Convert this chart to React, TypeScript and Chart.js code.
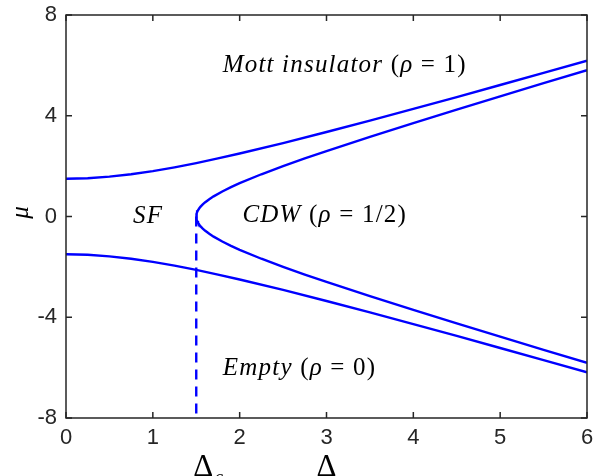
import React, { useEffect, useRef } from 'react';
import { Chart, registerables } from 'chart.js';

Chart.register(...registerables);

// Outer (Mott / Empty) boundaries
const deltaOuter = [0, 0.25, 0.5, 0.75, 1, 1.25, 1.5, 1.75, 2, 2.5, 3, 3.5, 4, 4.5, 5, 5.5, 6];
const muOuterUpper = [1.5, 1.521, 1.581, 1.677, 1.803, 1.953, 2.121, 2.305, 2.5, 2.915, 3.354, 3.808, 4.272, 4.743, 5.22, 5.701, 6.185];
const muOuterLower = [-1.5, -1.521, -1.581, -1.677, -1.803, -1.953, -2.121, -2.305, -2.5, -2.915, -3.354, -3.808, -4.272, -4.743, -5.22, -5.701, -6.185];

// CDW lobe boundaries
const deltaCdw = [1.5, 1.505, 1.51, 1.52, 1.535, 1.55, 1.575, 1.6, 1.65, 1.7, 1.8, 1.9, 2, 2.25, 2.5, 2.75, 3, 3.5, 4, 4.5, 5, 5.5, 6];
const muCdwUpper = [0, 0.123, 0.174, 0.246, 0.326, 0.391, 0.48, 0.557, 0.687, 0.8, 0.995, 1.166, 1.323, 1.677, 2, 2.305, 2.598, 3.162, 3.708, 4.243, 4.77, 5.292, 5.809];
const muCdwLower = [0, -0.123, -0.174, -0.246, -0.326, -0.391, -0.48, -0.557, -0.687, -0.8, -0.995, -1.166, -1.323, -1.677, -2, -2.305, -2.598, -3.162, -3.708, -4.243, -4.77, -5.292, -5.809];

// Critical Delta (dashed line)
const deltaC = [1.5, 1.5];
const muDashed = [0, -8];

const xRange = [0, 6];
const yRange = [-8, 8];
const xStep = 1;
const yStep = 4;

// Region labels
const regionTexts = ['Mott insulator', 'SF', 'CDW', 'Empty'];
const regionRho = ['1', '', '1/2', '0'];
const regionDelta = [3.21, 0.945, 2.98, 2.69];
const regionMu = [6.0, 0.0, 0.03, -6.03];

const BLUE = '#0000ff';
const AXIS = '#262626';

function drawSegments(ctx: any, segs: { t: string; it: boolean }[], cx: number, cy: number, size: number, spacing: number) {
  const fontFor = (it: boolean) => `${it ? 'italic ' : ''}${size}px "Liberation Serif"`;
  ctx.letterSpacing = `${spacing}px`;
  let total = 0;
  const widths = segs.map((s) => {
    ctx.font = fontFor(s.it);
    const w = ctx.measureText(s.t).width;
    total += w;
    return w;
  });
  let x = cx - total / 2;
  ctx.textAlign = 'left';
  ctx.textBaseline = 'middle';
  segs.forEach((s, i) => {
    ctx.font = fontFor(s.it);
    ctx.fillText(s.t, x, cy);
    x += widths[i];
  });
  ctx.letterSpacing = '0px';
}

const framePlugin = {
  id: 'framePlugin',
  afterDatasetsDraw(chart: any) {
    const { ctx, chartArea, scales } = chart;
    const xs = scales.x;
    const ys = scales.y;
    const { left, right, top, bottom } = chartArea;
    ctx.save();
    ctx.strokeStyle = AXIS;
    ctx.lineWidth = 1.5;
    ctx.beginPath();
    ctx.rect(left, top, right - left, bottom - top);
    ctx.stroke();
    const tl = 6;
    ctx.beginPath();
    xs.ticks.forEach((t: any) => {
      const px = xs.getPixelForValue(t.value);
      ctx.moveTo(px, bottom);
      ctx.lineTo(px, bottom - tl);
      ctx.moveTo(px, top);
      ctx.lineTo(px, top + tl);
    });
    ys.ticks.forEach((t: any) => {
      const py = ys.getPixelForValue(t.value);
      ctx.moveTo(left, py);
      ctx.lineTo(left + tl, py);
      ctx.moveTo(right, py);
      ctx.lineTo(right - tl, py);
    });
    ctx.stroke();

    // Region labels
    ctx.fillStyle = '#000';
    regionTexts.forEach((txt, i) => {
      const cx = xs.getPixelForValue(regionDelta[i]);
      const cy = ys.getPixelForValue(regionMu[i]);
      const segs = regionRho[i]
        ? [
            { t: txt, it: true },
            { t: ' (', it: false },
            { t: 'ρ', it: true },
            { t: ' = ' + regionRho[i] + ')', it: false },
          ]
        : [{ t: txt, it: true }];
      drawSegments(ctx, segs, cx, cy, 25, 1.2);
    });

    // Axis labels
    ctx.fillStyle = '#000';
    ctx.textBaseline = 'alphabetic';
    ctx.textAlign = 'center';
    ctx.font = '31px "Liberation Serif"';
    const dX = xs.getPixelForValue((xRange[0] + xRange[1]) / 2);
    ctx.fillText('Δ', dX, 476);
    const dcX = xs.getPixelForValue(deltaC[0]) + 7;
    ctx.fillText('Δ', dcX, 476);
    ctx.font = 'italic 20px "Liberation Serif"';
    ctx.textAlign = 'left';
    ctx.fillText('c', dcX + 11, 484);

    ctx.save();
    ctx.translate(21, ys.getPixelForValue(0) - 4);
    ctx.rotate(-Math.PI / 2);
    ctx.textAlign = 'center';
    ctx.textBaseline = 'middle';
    ctx.font = 'italic 25px "Liberation Serif"';
    ctx.fillText('μ', 0, 0);
    ctx.restore();

    ctx.restore();
  },
};

const zeroPad = (s: any) => {
  s.paddingTop = 0;
  s.paddingBottom = 0;
  s.paddingLeft = 0;
  s.paddingRight = 0;
};

export default function App() {
  const ref = useRef<HTMLCanvasElement>(null);
  useEffect(() => {
    document.body.style.margin = '0';
    const canvas = ref.current!;
    const toPts = (xs: number[], ys: number[]) => xs.map((x, i) => ({ x, y: ys[i] }));
    const cdwPath = [
      ...toPts(deltaCdw, muCdwUpper).reverse(),
      ...toPts(deltaCdw, muCdwLower).slice(1),
    ];
    const common = {
      showLine: true,
      pointRadius: 0,
      borderColor: BLUE,
      backgroundColor: BLUE,
      borderWidth: 2.4,
      fill: false,
      tension: 0,
    };
    const chart = new Chart(canvas, {
      type: 'scatter',
      data: {
        datasets: [
          { ...common, data: toPts(deltaOuter, muOuterUpper) },
          { ...common, data: toPts(deltaOuter, muOuterLower) },
          { ...common, data: cdwPath },
          { ...common, data: toPts(deltaC, muDashed), borderDash: [10, 7] },
        ],
      },
      options: {
        animation: false,
        responsive: false,
        maintainAspectRatio: false,
        layout: { padding: { left: 0, right: 13, top: 15, bottom: 0 } },
        plugins: { legend: { display: false }, tooltip: { enabled: false } },
        scales: {
          x: {
            type: 'linear',
            min: xRange[0],
            max: xRange[1],
            grid: { display: false, drawTicks: false },
            border: { display: false },
            ticks: {
              stepSize: xStep,
              padding: 7,
              color: AXIS,
              font: { family: '"Liberation Sans"', size: 22 },
              callback: (v: any) => String(v),
            },
            afterFit: (s: any) => {
              s.height = 58;
              zeroPad(s);
            },
          },
          y: {
            type: 'linear',
            min: yRange[0],
            max: yRange[1],
            grid: { display: false, drawTicks: false },
            border: { display: false },
            ticks: {
              stepSize: yStep,
              padding: 9,
              color: AXIS,
              font: { family: '"Liberation Sans"', size: 22 },
              callback: (v: any) => String(v),
            },
            afterFit: (s: any) => {
              s.width = 66;
              zeroPad(s);
            },
          },
        },
      },
      plugins: [framePlugin],
    });
    return () => chart.destroy();
  }, []);
  return <canvas ref={ref} width={600} height={476} style={{ display: 'block' }} />;
}
